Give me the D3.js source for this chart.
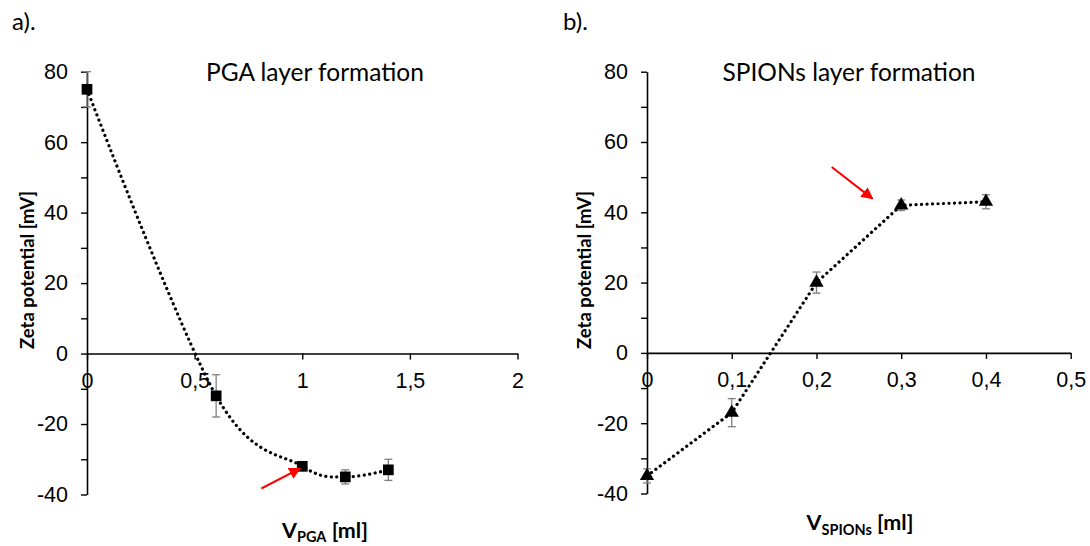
<!DOCTYPE html>
<html>
<head>
<meta charset="utf-8">
<script src="https://cdn.jsdelivr.net/npm/d3@7"></script>
<style>
  html, body { margin: 0; padding: 0; background: #fff; }
  svg { display: block; font-family: Lato, "Open Sans", sans-serif; }
</style>
</head>
<body>
<svg id="chart" width="1090" height="546"></svg>
<script>
// ---------- data ----------
const pgaX = [0, 0.6, 1, 1.2, 1.4];
const pgaY = [75, -12, -32, -35, -33];
const pgaErr = [5, 6, 1, 2, 3];

const spionX = [0, 0.1, 0.2, 0.3, 0.4];
const spionY = [-35, -17, 20, 42, 43];
const spionErr = [2, 4, 3, 1.5, 2];

const yMajorTicks = [-40, -20, 0, 20, 40, 60, 80];
const yMinorTicks = [-30, -10, 10, 30, 50, 70];
const pgaXTicks = [0, 0.5, 1, 1.5, 2];
const pgaXTickLabels = ["0", "0,5", "1", "1,5", "2"];
const spionXTicks = [0, 0.1, 0.2, 0.3, 0.4, 0.5];
const spionXTickLabels = ["0", "0,1", "0,2", "0,3", "0,4", "0,5"];

const panelLabels = ["a).", "b)."];
const panelTitles = ["PGA layer formation", "SPIONs layer formation"];
const yTitle = "Zeta potential [mV]";
const xTitleMain = ["V", "V"];
const xTitleSub = ["PGA", "SPIONs"];
const xTitleUnit = [" [ml]", " [ml]"];

// arrow annotations in data coordinates: [x1, y1, x2(tip), y2(tip)]
const pgaArrow = [0.81, -38.3, 0.99, -32.6];
const spionArrow = [0.218, 52.9, 0.266, 43.9];

// ---------- drawing ----------
const svg = d3.select("#chart");

const panels = [
  {
    xs: pgaX, ys: pgaY, errs: pgaErr, xTicks: pgaXTicks, xLabels: pgaXTickLabels,
    xDomain: [0, 2], xRange: [87, 517.5], yRange: [494.5, 71.7],
    marker: "square", curve: d3.curveCatmullRom.alpha(0),
    label: panelLabels[0], labelPos: [12, 30],
    title: panelTitles[0], titleX: 315,
    yTitleX: 27, xTitleX: 325, xTitleY: 537.5, arrow: pgaArrow, idx: 0
  },
  {
    xs: spionX, ys: spionY, errs: spionErr, xTicks: spionXTicks, xLabels: spionXTickLabels,
    xDomain: [0, 0.5], xRange: [647, 1070.7], yRange: [493.5, 71.7],
    marker: "triangle", curve: d3.curveLinear,
    label: panelLabels[1], labelPos: [563, 30],
    title: panelTitles[1], titleX: 849,
    yTitleX: 584, xTitleX: 860, xTitleY: 530, arrow: spionArrow, idx: 1
  }
];

svg.append("defs").append("marker")
  .attr("id", "redhead")
  .attr("viewBox", "0 0 10 10")
  .attr("refX", 9).attr("refY", 5)
  .attr("markerWidth", 6).attr("markerHeight", 6)
  .attr("markerUnits", "strokeWidth")
  .attr("orient", "auto")
  .append("path").attr("d", "M0,0 L10,5 L0,10 Z").attr("fill", "#ff0000");

panels.forEach(p => {
  const x = d3.scaleLinear().domain(p.xDomain).range(p.xRange);
  const y = d3.scaleLinear().domain([-40, 80]).range(p.yRange);
  const g = svg.append("g");

  // y axis
  const yAxis = d3.axisLeft(y).tickValues(yMajorTicks).tickFormat(d3.format("d"))
    .tickSize(6).tickSizeOuter(0).tickPadding(13);
  const yg = g.append("g").attr("transform", `translate(${x(0)},0)`).call(yAxis);
  yg.select(".domain").attr("stroke", "#000").attr("stroke-width", 1.6);
  yg.selectAll(".tick line").attr("stroke", "#000").attr("stroke-width", 1.4);
  yg.selectAll(".tick text").attr("font-size", 21.5).attr("fill", "#000")
    .text(d => d < 0 ? "-" + Math.abs(d) : d);

  const yMinor = d3.axisLeft(y).tickValues(yMinorTicks).tickFormat("").tickSize(6).tickSizeOuter(0);
  const ymg = g.append("g").attr("transform", `translate(${x(0)},0)`).call(yMinor);
  ymg.select(".domain").remove();
  ymg.selectAll(".tick line").attr("stroke", "#000").attr("stroke-width", 1.4);

  // x axis at y = 0
  const xAxis = d3.axisBottom(x).tickValues(p.xTicks)
    .tickFormat((d, i) => p.xLabels[i]).tickSize(6).tickSizeOuter(0).tickPadding(13);
  const xg = g.append("g").attr("transform", `translate(0,${y(0)})`).call(xAxis);
  xg.select(".domain").attr("stroke", "#000").attr("stroke-width", 1.6);
  xg.selectAll(".tick line").attr("stroke", "#000").attr("stroke-width", 1.4);
  xg.selectAll(".tick text").attr("font-size", 21.5).attr("fill", "#000");

  // error bars
  const pts = p.xs.map((v, i) => ({ x: v, y: p.ys[i], e: p.errs[i] }));
  const eb = g.append("g").attr("stroke", "#7f7f7f").attr("stroke-width", 1.3).attr("fill", "none");
  pts.forEach(d => {
    const cx = x(d.x), y1 = y(d.y + d.e), y2 = y(d.y - d.e);
    eb.append("line").attr("x1", cx).attr("x2", cx).attr("y1", y1).attr("y2", y2);
    eb.append("line").attr("x1", cx - 4).attr("x2", cx + 4).attr("y1", y1).attr("y2", y1);
    eb.append("line").attr("x1", cx - 4).attr("x2", cx + 4).attr("y1", y2).attr("y2", y2);
  });

  // dotted line
  const line = d3.line().x(d => x(d.x)).y(d => y(d.y)).curve(p.curve);
  g.append("path").datum(pts).attr("d", line)
    .attr("fill", "none").attr("stroke", "#000").attr("stroke-width", 3.2)
    .attr("stroke-linecap", "round").attr("stroke-dasharray", "0.1 5.4");

  // markers
  const sym = p.marker === "square"
    ? d3.symbol().type(d3.symbolSquare).size(115)
    : d3.symbol().type(d3.symbolTriangle).size(88);
  g.selectAll(".mk").data(pts).join("path")
    .attr("transform", d => `translate(${x(d.x)},${y(d.y)})`)
    .attr("d", sym).attr("fill", "#000");

  // red arrow
  const a = p.arrow;
  g.append("line")
    .attr("x1", x(a[0])).attr("y1", y(a[1]))
    .attr("x2", x(a[2])).attr("y2", y(a[3]))
    .attr("stroke", "#ff0000").attr("stroke-width", 2)
    .attr("marker-end", "url(#redhead)");

  // title
  g.append("text").attr("x", p.titleX).attr("y", 81).attr("text-anchor", "middle")
    .attr("font-size", 24.5).attr("fill", "#000").text(p.title);

  // panel label
  g.append("text").attr("x", p.labelPos[0]).attr("y", p.labelPos[1])
    .attr("font-size", 24).attr("fill", "#000").text(p.label);

  // y title
  g.append("text")
    .attr("transform", `translate(${p.yTitleX},270) rotate(-90)`)
    .attr("text-anchor", "middle").attr("dominant-baseline", "central")
    .attr("font-size", 18.5).attr("font-weight", "bold").attr("fill", "#000")
    .text(yTitle);

  // x title with subscript
  const xt = g.append("text").attr("x", p.xTitleX).attr("y", p.xTitleY)
    .attr("text-anchor", "middle").attr("font-weight", "bold").attr("font-size", 21.5).attr("fill", "#000");
  xt.append("tspan").text(xTitleMain[p.idx]);
  xt.append("tspan").attr("font-size", 14.5).attr("dy", 4.5).text(xTitleSub[p.idx]);
  xt.append("tspan").attr("dy", -4.5).text(xTitleUnit[p.idx]);
});
</script>
</body>
</html>
